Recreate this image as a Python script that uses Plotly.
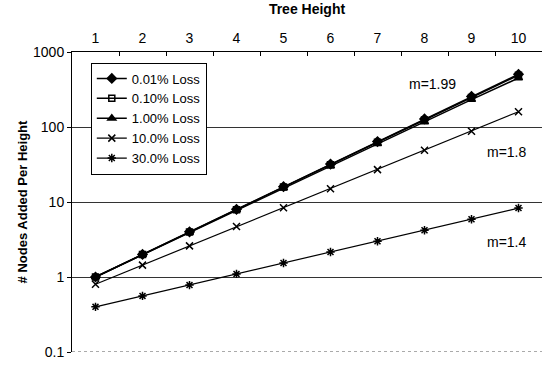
import plotly.graph_objects as go

heights = [1, 2, 3, 4, 5, 6, 7, 8, 9, 10]
loss_001 = [1.0, 2.0, 4.0, 8.0, 16.0, 32.0, 64.0, 128.0, 256.0, 505.0]
loss_010 = [1.0, 2.0, 3.98, 7.9, 15.8, 31.5, 62.6, 124.0, 247.0, 490.0]
loss_100 = [1.0, 1.98, 3.92, 7.8, 15.4, 30.3, 59.7, 117.0, 232.0, 450.0]
loss_10 = [0.8, 1.44, 2.6, 4.7, 8.4, 15.0, 27.0, 49.0, 88.0, 160.0]
loss_30 = [0.4, 0.56, 0.78, 1.1, 1.54, 2.15, 3.0, 4.2, 5.9, 8.3]

slope_labels = ["m=1.99", "m=1.8", "m=1.4"]
slope_x = [8.17, 9.76, 9.76]
slope_logy = [2.573, 1.667, 0.467]

series = [
    ("0.01% Loss", loss_001, "diamond", 7, 1.5),
    ("0.10% Loss", loss_010, "square-open", 6, 1.5),
    ("1.00% Loss", loss_100, "triangle-up", 7, 1.5),
    ("10.0% Loss", loss_10, "x-thin", 7, 1.2),
    ("30.0% Loss", loss_30, "asterisk", 7, 1.2),
]

FONT = "Liberation Sans, Arial, sans-serif"

fig = go.Figure()
for name, ys, sym, size, lw in series:
    fig.add_trace(go.Scatter(
        x=heights, y=ys, name=name, mode="lines+markers",
        line=dict(color="black", width=lw),
        marker=dict(symbol=sym, size=size, color="black",
                    line=dict(color="black", width=1.5)),
    ))

# dotted line at bottom (0.1)
fig.add_shape(type="line", xref="paper", yref="y", x0=0, x1=1, y0=0.1, y1=0.1,
              line=dict(color="#555", width=1, dash="dot"))

for t, xv, yv in zip(slope_labels, slope_x, slope_logy):
    fig.add_annotation(x=xv, y=yv, xref="x", yref="y", text=t, showarrow=False,
                       font=dict(size=14, color="black", family=FONT),
                       xanchor="center", yanchor="middle")

fig.update_layout(
    width=547, height=365,
    margin=dict(l=72, r=5, t=52, b=13),
    paper_bgcolor="white", plot_bgcolor="white",
    font=dict(family=FONT, size=14, color="black"),
    showlegend=True,
    legend=dict(x=0.04, y=0.965, xanchor="left", yanchor="top",
                bordercolor="black", borderwidth=1, bgcolor="white",
                font=dict(size=13), tracegroupgap=0, itemwidth=30),
    xaxis=dict(
        side="top", range=[0.5, 10.5], tickmode="array", tickvals=heights,
        ticktext=[str(h) for h in heights], ticks="", showgrid=False,
        tickfont=dict(size=14), ticklabelstandoff=2,
        showline=True, linecolor="black", linewidth=1, zeroline=False,
        title=dict(text="<b>Tree Height</b>", font=dict(size=14), standoff=12),
        minor=dict(tickmode="array", tickvals=[1.5 + i for i in range(9)],
                   ticks="inside", ticklen=4, tickcolor="black", showgrid=False),
    ),
    yaxis=dict(
        type="log", range=[-1, 3], tickmode="array",
        tickvals=[0.1, 1, 10, 100, 1000], ticktext=["0.1", "1", "10", "100", "1000"],
        ticks="outside", ticklen=4, tickcolor="black", tickfont=dict(size=14),
        showgrid=True, gridcolor="#333", gridwidth=1,
        showline=True, linecolor="black", linewidth=1, zeroline=False,
        title=dict(text="<b># Nodes Added Per Height</b>", font=dict(size=13), standoff=2),
    ),
)

fig.write_html("out.html")
